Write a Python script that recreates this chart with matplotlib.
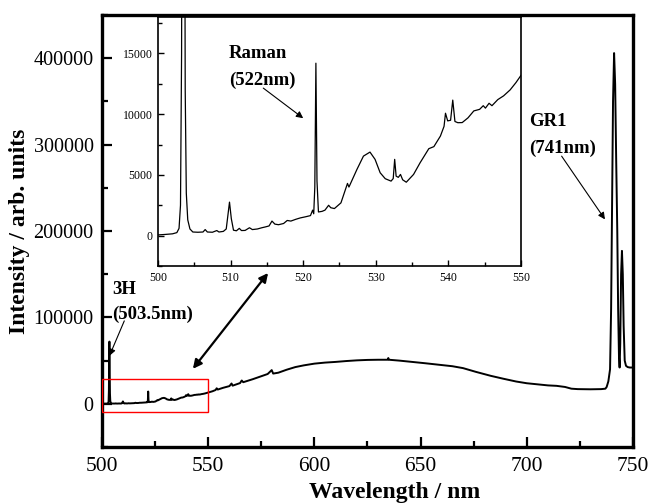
import matplotlib
matplotlib.use("Agg")
import matplotlib.pyplot as plt
from matplotlib.ticker import MultipleLocator, FuncFormatter
from matplotlib.patches import Rectangle

plt.rcParams['font.family'] = ['Liberation Serif', 'DejaVu Serif']

# ---------------- data ----------------
wavelength = [
    500.0, 501.0, 502.0, 502.6, 502.9, 503.1, 503.25, 503.4, 503.5, 503.6, 503.75, 503.9,
    504.1, 504.4, 504.8, 505.5, 506.2, 506.5, 506.8, 507.5, 508.1, 508.4, 509.0, 509.4,
    509.6, 509.85, 510.1, 510.4, 510.8, 511.2, 511.5, 512.0, 512.6, 513.0, 513.7, 514.3,
    514.8, 515.3, 515.7, 516.1, 516.6, 517.3, 517.8, 518.3, 519.0, 519.6, 520.3, 521.0,
    521.3, 521.45, 521.6, 521.75, 521.9, 522.1, 522.6, 523.0, 523.5, 523.8, 524.3, 525.2,
    525.9, 526.1, 526.3, 527.4, 528.3, 529.2, 529.9, 530.6, 531.3, 532.1, 532.4, 532.6,
    532.8, 533.1, 533.4, 533.7, 534.2, 535.2, 536.1, 537.3, 538.0, 538.9, 539.4, 539.6,
    539.9, 540.3, 540.6, 540.9, 541.3, 541.9, 542.7, 543.5, 544.3, 544.8, 545.1, 545.6,
    546.0, 546.8, 547.6, 548.5, 549.3, 550.0,
    552.0, 553.5, 554.0, 554.5, 557.0, 560.0, 561.0, 561.5, 565.0, 565.8, 566.5, 571.0,
    575.0, 578.0, 579.9, 580.6, 583.0, 587.0, 591.0, 595.0, 600.0, 605.0, 610.0, 615.0,
    620.0, 625.0, 630.0, 634.5, 634.8, 635.1, 640.0, 646.0, 652.0, 659.0, 665.0, 670.0,
    676.0, 683.0, 689.0, 695.0, 700.0, 705.0, 710.0, 714.0, 718.0, 721.0, 724.0, 730.0,
    735.0, 737.0, 737.6, 738.4, 739.2, 739.7, 740.1, 740.6, 741.1, 741.6, 742.1, 742.6,
    743.0, 743.4, 743.7, 744.0, 744.4, 744.8, 745.2, 745.6, 746.1, 746.7, 747.5, 748.5,
    750.0,
]
intensity = [
    60, 100, 150, 250, 600, 2500, 15000, 60000, 72000, 50000, 12000, 3500,
    1300, 550, 300, 280, 300, 500, 300, 280, 420, 300, 350, 550,
    1500, 2760, 1400, 450, 400, 600, 420, 430, 650, 500, 550, 650,
    720, 800, 1200, 950, 900, 1000, 1250, 1200, 1350, 1460, 1550, 1650,
    2100, 1800, 4000, 14200, 4500, 1950, 2000, 2100, 2500, 2300, 2230, 2700,
    3940, 4300, 4000, 5450, 6550, 6880, 6280, 5180, 4690, 4490, 4700, 6280,
    4900, 4800, 5040, 4600, 4400, 5040, 6000, 7160, 7330, 8200, 9000, 10080,
    9450, 9500, 11160, 9400, 9300, 9310, 9700, 10270, 10400, 10700, 10500, 10900,
    10700, 11200, 11510, 12000, 12600, 13200,
    14500, 16000, 18000, 16500, 18500, 20500, 23500, 21000, 24000, 27000, 25000, 28500,
    32000, 34500, 39000, 35000, 36000, 39500, 42500, 44500, 46500, 47700, 48500, 49500,
    50300, 50800, 51000, 51000, 53000, 51000, 50000, 48500, 47000, 45100, 43500, 41300,
    37000, 32400, 29000, 25800, 23800, 22500, 21300, 20800, 19500, 17500, 17000, 16800,
    17000, 17500, 19500, 26000, 40000, 110000, 220000, 350000, 406000, 370000, 280000, 200000,
    110000, 55000, 42000, 70000, 150000, 177000, 150000, 90000, 50000, 44000, 42500, 42000,
    42000,
]

main_xticks = [500, 550, 600, 650, 700, 750]
main_yticks = [0, 100000, 200000, 300000, 400000]
inset_xticks = [500, 510, 520, 530, 540, 550]
inset_yticks = [0, 5000, 10000, 15000]

# ---------------- figure ----------------
fig = plt.figure(figsize=(6.58, 5.04), dpi=100)
ax = fig.add_axes([0.155, 0.1131, 0.807, 0.857])

ax.plot(wavelength, intensity, color='black', lw=1.4)
ax.set_xlim(500, 750)
ax.set_ylim(-50000, 450000)
ax.set_xticks(main_xticks)
ax.set_yticks(main_yticks)
ax.xaxis.set_minor_locator(MultipleLocator(25))
ax.yaxis.set_minor_locator(MultipleLocator(50000))
ax.yaxis.set_major_formatter(FuncFormatter(lambda v, p: f"{int(round(v))}"))
ax.tick_params(which='both', direction='in', top=False, right=False, width=1.6)
ax.tick_params(which='major', length=7)
ax.tick_params(which='minor', length=4.5)
ax.tick_params(axis='x', labelsize=15.5, pad=7)
ax.tick_params(axis='y', labelsize=14.5, pad=6)
for s in ax.spines.values():
    s.set_linewidth(2.4)

ax.set_xlabel('Wavelength / nm', fontsize=17, fontweight='bold')
ax.xaxis.set_label_coords(0.551, -0.080)
ax.set_ylabel('Intensity / arb. units', fontsize=17, fontweight='bold')
ax.yaxis.set_label_coords(-0.136, 0.5)

# red box marking the zoomed region
ax.add_patch(Rectangle((500, -9000), 50, 38000, fill=False, edgecolor='red', lw=1.0, zorder=5))

# annotations on main axes
ax.text(504.6, 126800, '3H', fontsize=13.5, fontweight='bold', va='baseline', ha='left')
ax.text(504.6, 97900, '(503.5nm)', fontsize=13.5, fontweight='bold', va='baseline', ha='left')
ax.annotate('', xy=(503.5, 55500), xytext=(510.5, 96000),
            arrowprops=dict(arrowstyle='-|>', color='black', lw=0.8, mutation_scale=10,
                            shrinkA=0, shrinkB=0))

ax.text(701.2, 321400, 'GR1', fontsize=13.5, fontweight='bold', va='baseline', ha='left')
ax.text(701.2, 290500, '(741nm)', fontsize=13.5, fontweight='bold', va='baseline', ha='left')
ax.annotate('', xy=(736.8, 213500), xytext=(716.4, 286700),
            arrowprops=dict(arrowstyle='-|>', color='black', lw=0.8, mutation_scale=10,
                            shrinkA=0, shrinkB=0))

ax.annotate('', xy=(542.8, 40500), xytext=(578.2, 151400),
            arrowprops=dict(arrowstyle='<|-|>', color='black', lw=1.6, mutation_scale=13,
                            shrinkA=0, shrinkB=0), annotation_clip=False)

# ---------------- inset ----------------
axi = fig.add_axes([0.2401, 0.4722, 0.5517, 0.494])
axi.set_facecolor('white')
axi.plot(wavelength, intensity, color='black', lw=0.9)
axi.set_xlim(500, 550)
axi.set_ylim(-2500, 18000)
axi.set_xticks(inset_xticks)
axi.set_yticks(inset_yticks)
axi.xaxis.set_minor_locator(MultipleLocator(5))
axi.yaxis.set_minor_locator(MultipleLocator(2500))
axi.tick_params(which='both', direction='in', top=False, right=False, width=1.0, labelsize=8.5)
axi.tick_params(which='major', length=4.5)
axi.tick_params(which='minor', length=3)
axi.tick_params(axis='x', pad=4)
axi.tick_params(axis='y', pad=4)
for s in axi.spines.values():
    s.set_linewidth(1.2)

axi.text(509.8, 14600, 'Raman', fontsize=13.5, fontweight='bold', va='baseline', ha='left')
axi.text(509.8, 12400, '(522nm)', fontsize=13.5, fontweight='bold', va='baseline', ha='left')
axi.annotate('', xy=(520.0, 9670), xytext=(514.5, 12150),
             arrowprops=dict(arrowstyle='-|>', color='black', lw=0.8, mutation_scale=10,
                             shrinkA=0, shrinkB=0))

fig.savefig('out.png', dpi=100)
